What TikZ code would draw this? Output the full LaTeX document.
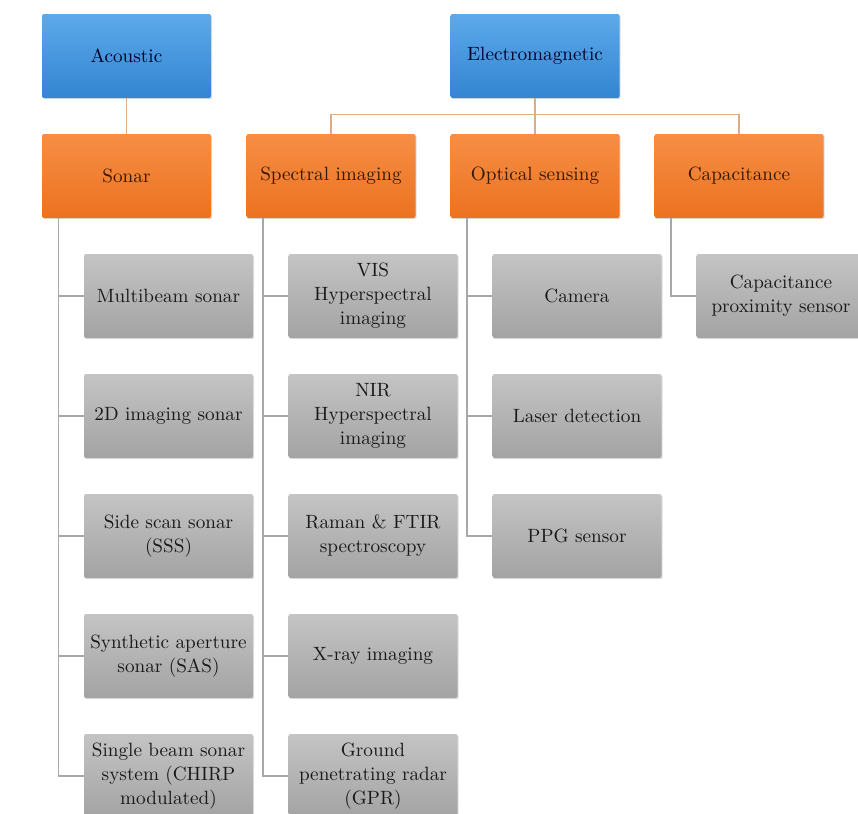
\documentclass[tikz,border=0pt]{standalone}
\usepackage{tikz}
\usetikzlibrary{shadows}

\definecolor{bluetop}{HTML}{5DA9EA}
\definecolor{bluebot}{HTML}{3385D2}
\definecolor{orangetop}{HTML}{F68E45}
\definecolor{orangebot}{HTML}{EC7220}
\definecolor{greytop}{HTML}{C4C4C4}
\definecolor{greybot}{HTML}{A3A3A3}
\definecolor{linkcol}{HTML}{DDAE85}
\definecolor{treecol}{HTML}{A8A8A8}

\tikzset{
	box/.style={rectangle, rounded corners=1pt, minimum width=84.5pt, minimum height=42pt,
		inner sep=0pt, align=center, font=\fontsize{9.6}{12}\selectfont,
		drop shadow={shadow xshift=0.6pt, shadow yshift=-0.6pt, opacity=0.25}},
	classbox/.style={box, top color=bluetop, bottom color=bluebot, text=black!85!blue},
	groupbox/.style={box, top color=orangetop, bottom color=orangebot, text=black!80!orange},
	sensorbox/.style={box, top color=greytop, bottom color=greybot, text=black!90},
	link/.style={draw=linkcol, line width=0.8pt},
	tree/.style={draw=treecol, line width=0.8pt}
}

\begin{document}
\begin{tikzpicture}[x=0.5pt, y=-0.5pt]
		\useasboundingbox (0,0) rectangle (858,814);
		% Top level
		\node[classbox] (acoustic) at (126.5,56) {Acoustic};
		\node[classbox] (electro) at (535,56) {Electromagnetic};
		% Sensing groups
		\node[groupbox] (sonar) at (126.5,176) {Sonar};
		\node[groupbox] (spectral) at (331,176) {Spectral imaging};
		\node[groupbox] (optical) at (535,176) {Optical sensing};
		\node[groupbox] (capacitance) at (739,176) {Capacitance};
		
		\draw[link] (acoustic) -- (sonar);
		\draw[link] (electro) -- (optical);
		\draw[link] (spectral.north) -- ++(0,-19) -| (capacitance.north);
		
		% Sensors
		\node[sensorbox] (sonar1) at (168.5,296) {Multibeam sonar};
		\node[sensorbox] (sonar2) at (168.5,416) {2D imaging sonar};
		\node[sensorbox] (sonar3) at (168.5,536) {Side scan sonar\\(SSS)};
		\node[sensorbox] (sonar4) at (168.5,656) {Synthetic aperture\\sonar (SAS)};
		\node[sensorbox] (sonar5) at (168.5,776) {Single beam sonar\\system (CHIRP\\modulated)};
		
		\node[sensorbox] (spectral1) at (373,296) {VIS\\Hyperspectral\\imaging};
		\node[sensorbox] (spectral2) at (373,416) {NIR\\Hyperspectral\\imaging};
		\node[sensorbox] (spectral3) at (373,536) {Raman \& FTIR\\spectroscopy};
		\node[sensorbox] (spectral4) at (373,656) {X-ray imaging};
		\node[sensorbox] (spectral5) at (373,776) {Ground\\penetrating radar\\(GPR)};
		
		\node[sensorbox] (optical1) at (577,296) {Camera};
		\node[sensorbox] (optical2) at (577,416) {Laser detection};
		\node[sensorbox] (optical3) at (577,536) {PPG sensor};
		
		\node[sensorbox] (capacitance1) at (781,296) {Capacitance\\proximity sensor};
		
		% Tree lines from each group
		\foreach \p/\n in {sonar/5, spectral/5, optical/3, capacitance/1} {
			\draw[tree] ([xshift=8.5pt]\p.south west) |- (\p\n.west);
			\foreach \i in {1,...,\n}
				\draw[tree] ([xshift=8.5pt]\p.south west |- \p\i.west) -- (\p\i.west);
		}
	\end{tikzpicture}
\end{document}
